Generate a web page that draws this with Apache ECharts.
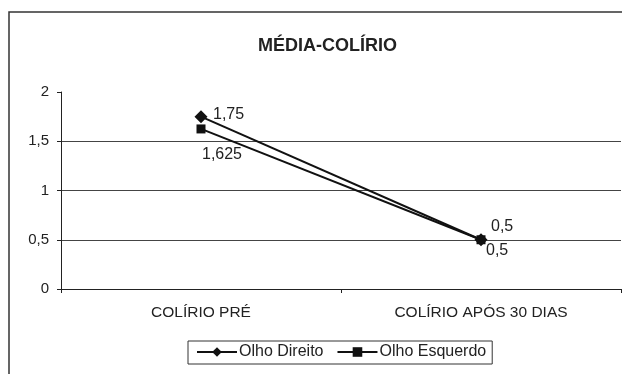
<!DOCTYPE html>
<html>
<head>
<meta charset="utf-8">
<script src="https://cdn.jsdelivr.net/npm/echarts@6/dist/echarts.min.js"></script>
<style>
html,body{margin:0;padding:0;background:#fff;}
#chart{width:622px;height:374px;}
</style>
</head>
<body>
<div id="chart"></div>
<script>
const titleText = 'MÉDIA-COLÍRIO';
const categories = ['COLÍRIO PRÉ', 'COLÍRIO APÓS 30 DIAS'];
const olhoDireito = [1.75, 0.5];
const olhoEsquerdo = [1.625, 0.5];
const seriesNames = ['Olho Direito', 'Olho Esquerdo'];

const fmt = v => String(v).replace('.', ',');
const font = 'Liberation Sans, Arial, sans-serif';

// label placement per point (style only)
const direitoLabelOffsets = [[12, -2], [10, -13]];
const esquerdoLabelOffsets = [[21, 26, 'center'], [5, 11]];

function withLabels(values, offsets) {
  return values.map((v, i) => ({
    value: v,
    label: {
      position: 'inside',
      align: offsets[i][2] || 'left',
      verticalAlign: 'middle',
      offset: [offsets[i][0], offsets[i][1]]
    }
  }));
}

const chart = echarts.init(document.getElementById('chart'), null, {renderer: 'canvas'});
chart.setOption({
  animation: false,
  backgroundColor: '#fff',
  textStyle: {fontFamily: font},
  title: {
    text: titleText,
    left: 253,
    top: 32,
    textStyle: {fontFamily: font, fontSize: 18, fontWeight: 'bold', color: '#222'}
  },
  graphic: [{
    type: 'rect',
    shape: {x: 9, y: 12, width: 700, height: 500},
    style: {fill: 'none', stroke: '#333', lineWidth: 1.5},
    z: -1
  }],
  grid: {left: 61, right: 1, top: 92, bottom: 85},
  legend: {
    left: 188,
    top: 341,
    padding: [3, 6, 4, 8],
    itemGap: 13,
    itemWidth: 40,
    itemHeight: 12,
    borderColor: '#333',
    borderWidth: 1,
    textStyle: {fontFamily: font, fontSize: 16, color: '#222', padding: [0, 0, 0, -3]},
    data: seriesNames
  },
  xAxis: {
    type: 'category',
    data: categories,
    boundaryGap: true,
    axisLine: {lineStyle: {color: '#222', width: 1}},
    axisTick: {show: true, length: 4, inside: false, lineStyle: {color: '#222'}},
    axisLabel: {fontFamily: font, fontSize: 15.5, color: '#222', margin: 16}
  },
  yAxis: {
    type: 'value',
    min: 0,
    max: 2,
    interval: 0.5,
    axisLine: {show: true, lineStyle: {color: '#222', width: 1}},
    axisTick: {show: true, length: 4, lineStyle: {color: '#222'}},
    axisLabel: {fontFamily: font, fontSize: 15, color: '#222', margin: 12, formatter: fmt},
    splitLine: {show: true, showMaxLine: false, lineStyle: {color: '#444', width: 1}}
  },
  series: [
    {
      name: seriesNames[0],
      type: 'line',
      data: withLabels(olhoDireito, direitoLabelOffsets),
      symbol: 'diamond',
      symbolSize: 13,
      lineStyle: {color: '#111', width: 2},
      itemStyle: {color: '#111'},
      label: {
        show: true,
        fontFamily: font,
        fontSize: 16,
        color: '#222',
        formatter: p => fmt(p.value)
      },
      z: 3
    },
    {
      name: seriesNames[1],
      type: 'line',
      data: withLabels(olhoEsquerdo, esquerdoLabelOffsets),
      symbol: 'rect',
      symbolSize: 9,
      lineStyle: {color: '#111', width: 2},
      itemStyle: {color: '#111'},
      label: {
        show: true,
        fontFamily: font,
        fontSize: 16,
        color: '#222',
        formatter: p => fmt(p.value)
      },
      z: 2
    }
  ]
});
</script>
</body>
</html>
